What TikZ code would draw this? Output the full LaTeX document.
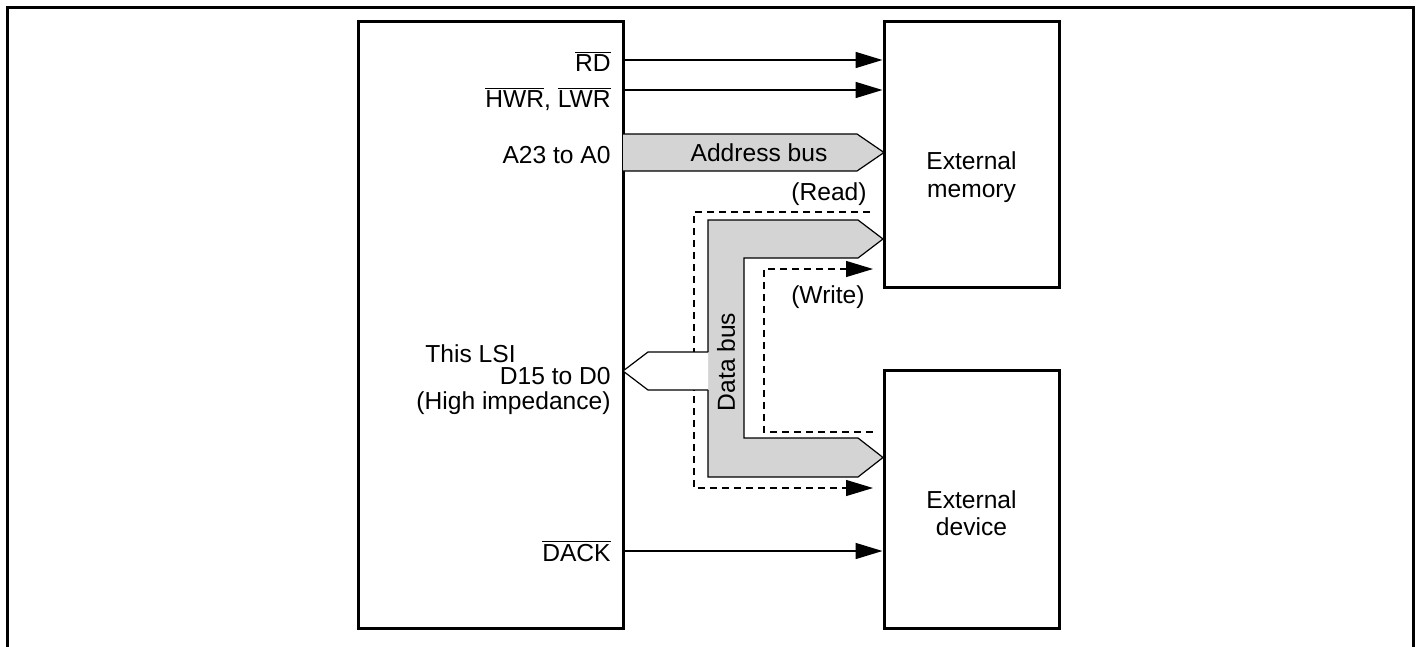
\documentclass[tikz,border=0pt]{standalone}
\usepackage{fontspec}
\setmainfont{Liberation Sans}
\usetikzlibrary{arrows.meta}
\newcommand\ovl[1]{$\overline{\hbox{#1}}$}
\definecolor{busgray}{RGB}{212,212,212}
\tikzset{
  blk/.style={draw, line width=1.5pt, rectangle, inner sep=0pt},
  sig/.style={line width=0.75pt, -{Triangle[length=13.5pt,width=8pt]}},
  busline/.style={line width=0.6pt, line join=miter},
  rw/.style={line width=0.6pt, dash pattern=on 3.5pt off 2.5pt},
  rwarrow/.style={rw, -{Triangle[length=13.5pt,width=8pt]}},
  lbl/.style={inner sep=0pt, font=\fontsize{12.3}{13}\selectfont},
}
\begin{document}
\begin{tikzpicture}[x=0.5pt,y=-0.5pt]
\useasboundingbox (0,0) rectangle (1417,647);
% outer frame (open at the bottom)
\draw[line width=1.5pt] (7,647) -- (7,8) -- (1413,8) -- (1413,647);

% blocks
\node[blk, minimum width=132.5pt, minimum height=303pt] (lsi) at (490.5,325) {};
\node[blk, minimum width=87.5pt, minimum height=132.5pt] (mem) at (971.5,154.5) {};
\node[blk, minimum width=87.5pt, minimum height=129pt] (dev) at (971.5,499) {};

% block texts
\node[lbl, anchor=base west] (lsitxt) at (425,362) {This LSI};
\node[lbl, anchor=base, align=center] (memtxt) at (971.5,197) {External\\[0.5pt]memory};
\node[lbl, anchor=base, align=center] (devtxt) at (971.5,535) {External\\[0.5pt]device};

% control signals
\coordinate (yrd) at (0,60);
\coordinate (ywr) at (0,90);
\coordinate (yda) at (0,551);
\draw[sig] (lsi.east |- yrd) -- (mem.west |- yrd);
\draw[sig] (lsi.east |- ywr) -- (mem.west |- ywr);
\draw[sig] (lsi.east |- yda) -- (dev.west |- yda);
\node[lbl, anchor=base east] (rdtxt) at (611,72) {\ovl{RD}};
\node[lbl, anchor=base east] (wrtxt) at (611,108) {\ovl{HWR}, \ovl{LWR}};
\node[lbl, anchor=base east] (datxt) at (611,561) {\ovl{DACK}};

% address bus
\coordinate (ab1) at (623,134);
\coordinate (ab2) at (857,134);
\coordinate (ab3) at (884,152.5);
\coordinate (ab4) at (857,171);
\coordinate (ab5) at (623,171);
\fill[busgray] (ab1) -- (ab2) -- (ab3) -- (ab4) -- (ab5) -- cycle;
\draw[busline] (ab1) -- (ab2) -- (ab3) -- (ab4) -- (ab5);
\node[lbl, anchor=base] (abtxt) at (759,161) {Address bus};
\node[lbl, anchor=base east] (atxt) at (611,163) {A23 to A0};

% read / write dashed paths
\coordinate (r0) at (870,212);
\coordinate (r1) at (694,212);
\coordinate (r2) at (694,488);
\coordinate (r3) at (873,488);
\draw[rwarrow] (r0) -- (r1) -- (r2) -- (r3);
\coordinate (w0) at (873,432);
\coordinate (w1) at (764,432);
\coordinate (w2) at (764,269);
\coordinate (w3) at (873,269);
\draw[rwarrow] (w0) -- (w1) -- (w2) -- (w3);
\node[lbl, anchor=base east] (readtxt) at (867,200) {(Read)};
\node[lbl, anchor=base east] (writetxt) at (865,303) {(Write)};

% data bus (gray C shape)
\coordinate (d1) at (708,352);
\coordinate (d2) at (708,220);
\coordinate (d3) at (858,220);
\coordinate (d4) at (883,239);
\coordinate (d5) at (858,258);
\coordinate (d6) at (744,258);
\coordinate (d7) at (744,438);
\coordinate (d8) at (858,438);
\coordinate (d9) at (883,457.5);
\coordinate (d10) at (858,477);
\coordinate (d11) at (708,477);
\coordinate (d12) at (708,390);
\fill[busgray] (d1) -- (d2) -- (d3) -- (d4) -- (d5) -- (d6) -- (d7) -- (d8) -- (d9) -- (d10) -- (d11) -- (d12) -- cycle;
\draw[busline] (d1) -- (d2) -- (d3) -- (d4) -- (d5) -- (d6) -- (d7) -- (d8) -- (d9) -- (d10) -- (d11) -- (d12);
% white stub to the LSI
\coordinate (s1) at (648,352);
\coordinate (s2) at (623,371);
\coordinate (s3) at (648,390);
\fill[white] (d1) -- (s1) -- (s2) -- (s3) -- (d12) -- cycle;
\draw[busline] (d1) -- (s1) -- (s2) -- (s3) -- (d12);
\node[lbl, rotate=90] (dbtxt) at (726,362) {Data bus};
\node[lbl, anchor=base east] (dtxt) at (611,384) {D15 to D0};
\node[lbl, anchor=base east] (hitxt) at (611,409) {(High impedance)};
\end{tikzpicture}
\end{document}
